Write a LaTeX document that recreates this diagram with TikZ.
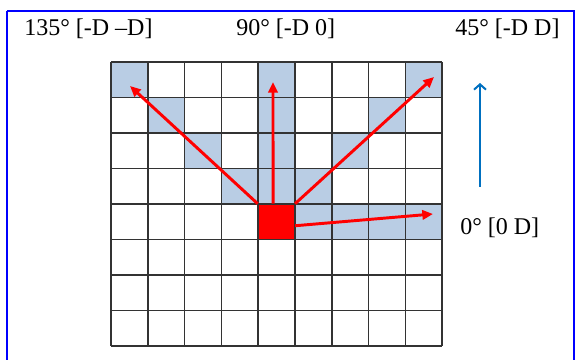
\documentclass[tikz,border=0pt]{standalone}
\usepackage{fontspec}
\setmainfont{Liberation Serif}
\usetikzlibrary{arrows.meta}
\definecolor{cellblue}{RGB}{185,205,228}
\definecolor{frameblue}{RGB}{0,0,255}
\definecolor{upblue}{RGB}{0,112,192}
\newcommand{\lbl}[1]{\fontsize{18}{21}\selectfont #1}

\begin{document}
\begin{tikzpicture}[x=0.75pt,y=0.75pt,yscale=-1,xscale=1,
  gridline/.style={draw=black!80,line width=1.1pt},
  redarrow/.style={draw=red,line width=2.2pt,-{Triangle[length=8pt,width=7pt]}},
  lbltext/.style={anchor=base west,inner sep=0.75pt,font=\lbl}]
\useasboundingbox (0,0) rectangle (576,360);

%Shape: Frame
\draw [color=frameblue,line width=1.5pt] (7,11) -- (574,11) -- (574,365) (7,365) -- (7,11) ;

%Shaded cells [col/row]
\foreach \c/\r in {0/0,4/0,8/0,1/1,4/1,7/1,2/2,4/2,6/2,3/3,4/3,5/3,5/4,6/4,7/4,8/4}
  \fill [cellblue] (111+\c*36.8,62+\r*35.5) rectangle ++(36.8,35.5) ;

%Shape: Square (start cell)
\node (src) [fill=red,inner sep=0,minimum width=27.6pt,minimum height=26.6pt] at (276.4,221.75) {} ;

%Grid
\foreach \i in {0,...,9}
  \draw [gridline] (111+\i*36.8,62) -- (111+\i*36.8,346) ;
\foreach \j in {0,...,8}
  \draw [gridline] (111,62+\j*35.5) -- (442.2,62+\j*35.5) ;

%Arrow ends
\coordinate (tipA) at (130,86) ;
\coordinate (tipB) at (273,82) ;
\coordinate (tipC) at (434,77) ;
\coordinate (tipD) at (433,214) ;
\coordinate (upS) at (480,187) ;
\coordinate (upE) at (480,83) ;

%Straight Lines
\draw [redarrow] (src.north west) -- (tipA) ;
\draw [redarrow] ([xshift=-2.5pt]src.north) -- (tipB) ;
\draw [redarrow] (src.north east) -- (tipC) ;
\draw [redarrow] ([yshift=3pt]src.east) -- (tipD) ;
%Straight Lines
\draw [color=upblue,line width=1.5pt,-{Straight Barb[length=4pt,width=9pt]}] (upS) -- (upE) ;

% Text Node
\node (t135) [lbltext] at (23,36) {135° [-D –D]} ;
% Text Node
\node (t90) [lbltext] at (235,36) {90° [-D 0]} ;
% Text Node
\node (t45) [lbltext] at (454,36) {45° [-D D]} ;
% Text Node
\node (t0) [lbltext] at (459,235) {0° [0 D]} ;

\end{tikzpicture}
\end{document}
